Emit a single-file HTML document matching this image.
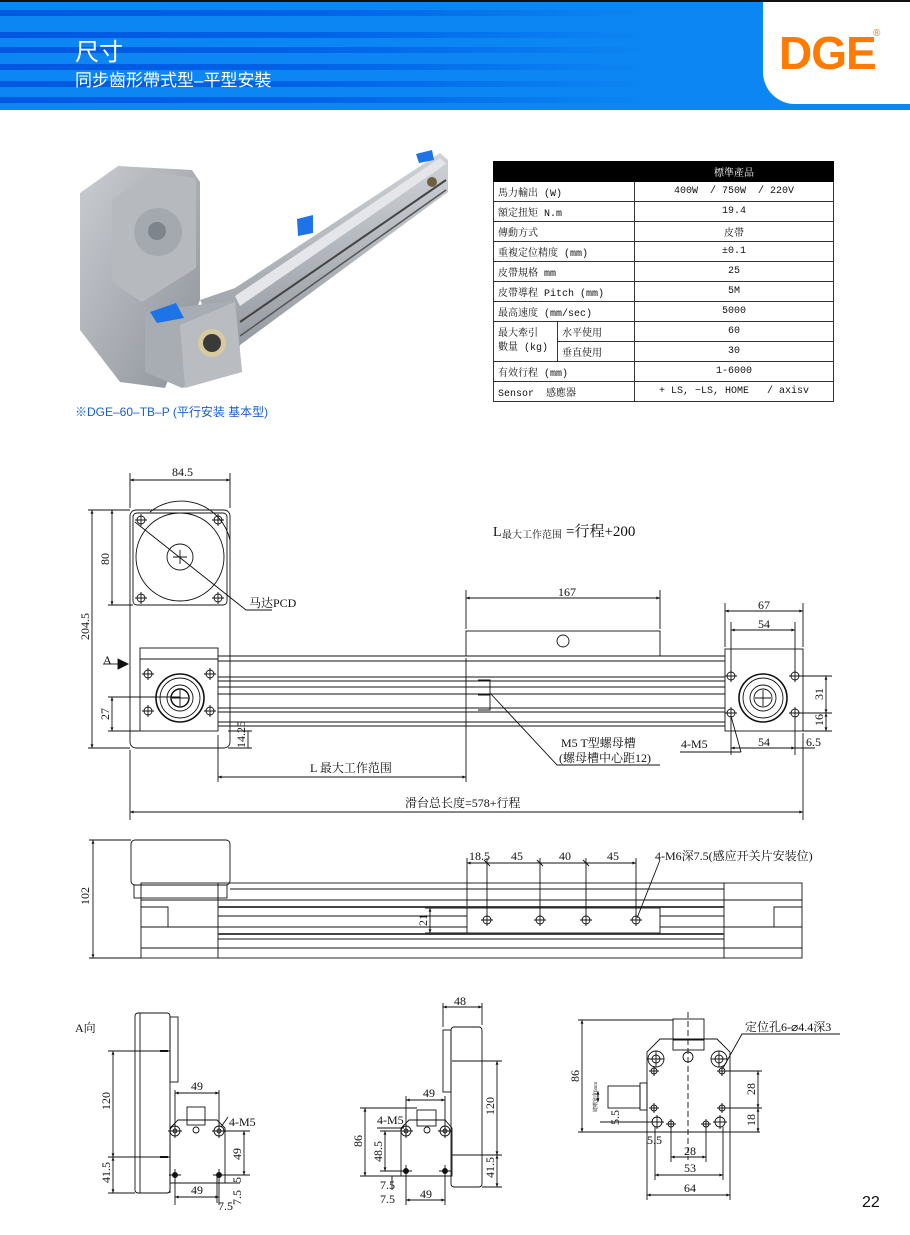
<!DOCTYPE html>
<html><head><meta charset="utf-8"><style>
html,body{margin:0;padding:0;background:#fff;}
body{width:910px;height:1235px;position:relative;overflow:hidden;font-family:"Liberation Sans","Noto Sans CJK SC",sans-serif;}
.hdr{position:absolute;left:0;top:0;width:910px;height:110px;background:#0b86f2;border-top:2px solid #111;box-sizing:border-box;}
.st{position:absolute;left:0;width:760px;height:6px;background:linear-gradient(90deg,#0058e0 0%,#0062e6 40%,rgba(11,134,242,0) 85%);}
.logo{position:absolute;left:763px;top:0;width:147px;height:102px;background:#fff;border-bottom-left-radius:32px;}
svg text{font-family:"Liberation Serif","Noto Serif CJK SC",serif;}
.tb{position:absolute;left:493px;top:161px;border-collapse:collapse;font-family:"Liberation Mono","Noto Serif CJK SC",monospace;font-size:10px;color:#111;}
.tb td{border:1px solid #333;height:19px;padding:0 4px;}
.tb .c{text-align:center;}
</style></head><body>
<div class="hdr">
<div class="st" style="top:8px"></div><div class="st" style="top:30px"></div><div class="st" style="top:45px"></div><div class="st" style="top:62px"></div><div class="st" style="top:79px"></div><div class="st" style="top:95px"></div>
<div style="position:absolute;left:75px;top:30px;color:#fff;font-size:24px;">尺寸</div>
<div style="position:absolute;left:75px;top:64px;color:#fff;font-size:17px;">同步齒形帶式型–平型安裝</div>
<div class="logo"><div style="position:absolute;left:16px;top:24px;color:#ff7a00;font-size:46px;font-weight:bold;letter-spacing:-1px;">DGE</div><div style="position:absolute;left:110px;top:26px;color:#ff7a00;font-size:10px;">®</div></div>
</div>

<table class="tb" style="width:341px;">
<tr><td colspan="2" style="background:#000;border-color:#000;"></td><td class="c" style="background:#000;color:#fff;border-color:#000;width:190px;">標準產品</td></tr>
<tr><td colspan="2">馬力輸出 (W)</td><td class="c">400W &nbsp;/ 750W &nbsp;/ 220V</td></tr>
<tr><td colspan="2">額定扭矩 N.m</td><td class="c">19.4</td></tr>
<tr><td colspan="2">傳動方式</td><td class="c">皮帶</td></tr>
<tr><td colspan="2">重複定位精度 (mm)</td><td class="c">±0.1</td></tr>
<tr><td colspan="2">皮帶規格 mm</td><td class="c">25</td></tr>
<tr><td colspan="2">皮帶導程 Pitch (mm)</td><td class="c">5M</td></tr>
<tr><td colspan="2">最高速度 (mm/sec)</td><td class="c">5000</td></tr>
<tr><td rowspan="2" style="width:55px;line-height:14px;">最大牽引<br>數量 (kg)</td><td>水平使用</td><td class="c">60</td></tr>
<tr><td>垂直使用</td><td class="c">30</td></tr>
<tr><td colspan="2">有效行程 (mm)</td><td class="c">1-6000</td></tr>
<tr><td colspan="2">Sensor &nbsp;感應器</td><td class="c">+ LS, −LS, HOME &nbsp;&nbsp;/ axisv</td></tr>
</table>

<div style="position:absolute;left:75px;top:403px;color:#1a5fd0;font-size:12px;">※DGE–60–TB–P (平行安装 基本型)</div>
<div style="position:absolute;left:862px;top:1194px;color:#111;font-size:16px;">22</div>

<svg width="910" height="1235" style="position:absolute;left:0;top:0" xmlns="http://www.w3.org/2000/svg">
<defs>
<marker id="a" viewBox="0 0 10 10" refX="10" refY="5" markerWidth="6" markerHeight="4" orient="auto-start-reverse"><path d="M0,1 L10,5 L0,9 z" fill="#111"/></marker>
<linearGradient id="g1" x1="0" y1="0" x2="1" y2="1"><stop offset="0" stop-color="#c9ccd1"/><stop offset="1" stop-color="#8d9299"/></linearGradient>
<linearGradient id="g2" x1="0" y1="0" x2="0" y2="1"><stop offset="0" stop-color="#cfd3d8"/><stop offset="1" stop-color="#8e949b"/></linearGradient>
</defs>
<!-- product image -->
<g stroke="none">
<polygon points="80,193 118,166 192,170 200,182 200,300 165,388 120,382 80,330" fill="url(#g1)"/>
<polygon points="112,200 150,172 196,178 196,268 142,302 112,282" fill="#b6babf"/>
<circle cx="158" cy="232" r="24" fill="#a4a9af"/><circle cx="157" cy="231" r="9" fill="#7e848b"/>
<polygon points="200,300 235,288 440,153 448,160 448,192 240,345 235,372" fill="url(#g2)"/>
<polygon points="235,296 440,158 446,164 240,306" fill="#e4e6e9"/>
<line x1="240" y1="322" x2="446" y2="180" stroke="#444" stroke-width="2"/>
<line x1="240" y1="336" x2="446" y2="190" stroke="#555" stroke-width="1.5"/>
<polygon points="145,312 235,300 242,372 182,388 145,372" fill="#a8adb3"/>
<polygon points="180,325 235,302 242,372 185,388" fill="#b9bdc2"/>
<circle cx="212" cy="343" r="14" fill="#d7caa0"/><circle cx="212" cy="343" r="9" fill="#3a3a3a"/>
<polygon points="150,312 176,303 184,318 157,323" fill="#1e74e6"/>
<polygon points="297,219 313,215 313,233 298,236" fill="#1e74e6"/>
<polygon points="416,154 432,150 434,160 419,163" fill="#1e74e6"/>
<circle cx="432" cy="182" r="5" fill="#6d5f40"/>
</g>

<g stroke="#111" stroke-width="0.9" fill="none">
<!-- DRAWING 1 -->
<rect x="130" y="510" width="100" height="238" rx="6"/>
<rect x="133" y="513" width="94" height="92" rx="4"/>
<circle cx="180" cy="557" r="44"/><circle cx="180" cy="557" r="13"/>
<path d="M180,550v14M173,557h14"/>
<path d="M150,512 A50,50 0 0 1 230,540"/>
<g id="h"><circle cx="141" cy="520" r="4"/><path d="M135,520h12M141,514v12"/></g>
<use href="#h" x="77"/><use href="#h" y="78"/><use href="#h" x="77" y="78"/>
<path d="M135,522 L246,610 H272"/>
<rect x="140" y="648" width="78" height="83"/><line x1="140" y1="659" x2="218" y2="659"/>
<circle cx="180" cy="698" r="24" stroke-width="1.6"/><circle cx="180" cy="698" r="20"/><circle cx="180" cy="698" r="13"/><circle cx="180" cy="698" r="9" stroke-width="1.5"/>
<path d="M180,690v16M172,698h16"/>
<use href="#h" x="7" y="154"/><use href="#h" x="69" y="154"/><use href="#h" x="7" y="191"/><use href="#h" x="69" y="191"/>
<!-- rail -->
<path d="M218,656H725M218,661H725M218,677H725M218,681H725M218,687H725M218,694H725M218,708H725M218,712H725M218,722H725M218,726H725" />
<rect x="466" y="631" width="194" height="25"/><circle cx="563" cy="641" r="6"/>
<path d="M478,680h12v30h-12M478,695h12"/>
<rect x="725" y="649" width="78" height="82"/>
<circle cx="763" cy="698" r="24" stroke-width="1.6"/><circle cx="763" cy="698" r="20"/><circle cx="763" cy="698" r="13"/><circle cx="763" cy="698" r="9"/>
<path d="M763,690v16M755,698h16"/>
<use href="#h" x="590" y="156"/><use href="#h" x="654" y="156"/><use href="#h" x="590" y="193"/><use href="#h" x="654" y="193"/>
<!-- dims 1 -->
<path d="M130,508V473M230,508V473M88,510H130M88,748H130M108,605H133M108,697H180M108,731H140M228,731H252M228,748H252M466,629V590M660,629V590M725,647V603M803,647V603M731,672V622M795,672V622M731,718V755M795,718V755M797,676H832M797,713H832M803,731H832M803,733V820M466,658V782M218,735V782M130,750V820"/>
<line x1="130" y1="480" x2="230" y2="480" marker-start="url(#a)" marker-end="url(#a)"/>
<line x1="92" y1="510" x2="92" y2="748" marker-start="url(#a)" marker-end="url(#a)"/>
<line x1="112" y1="510" x2="112" y2="605" marker-start="url(#a)" marker-end="url(#a)"/>
<line x1="112" y1="697" x2="112" y2="731" marker-start="url(#a)" marker-end="url(#a)"/>
<line x1="248" y1="731" x2="248" y2="748"/>
<line x1="466" y1="598" x2="660" y2="598" marker-start="url(#a)" marker-end="url(#a)"/>
<line x1="725" y1="611" x2="803" y2="611" marker-start="url(#a)" marker-end="url(#a)"/>
<line x1="731" y1="630" x2="795" y2="630" marker-start="url(#a)" marker-end="url(#a)"/>
<line x1="731" y1="748" x2="795" y2="748" marker-start="url(#a)" marker-end="url(#a)"/>
<line x1="795" y1="748" x2="815" y2="748"/>
<line x1="826" y1="676" x2="826" y2="713" marker-start="url(#a)" marker-end="url(#a)"/>
<line x1="826" y1="713" x2="826" y2="731" marker-start="url(#a)" marker-end="url(#a)"/>
<line x1="218" y1="777" x2="466" y2="777" marker-start="url(#a)" marker-end="url(#a)"/>
<line x1="130" y1="812" x2="803" y2="812" marker-start="url(#a)" marker-end="url(#a)"/>
<path d="M490,693 L557,765 H660M741,752 L731,716M680,752H741"/>
<path d="M103,664H118" /><polygon points="118,659 128,664 118,669" fill="#111"/>

<!-- DRAWING 2 -->
<rect x="131" y="840" width="99" height="45" rx="4"/><rect x="134" y="885" width="93" height="13"/>
<rect x="141" y="883" width="661" height="75"/>
<path d="M218,883V958M724,883V958M230,889H724M141,900H802M218,907H724M141,927H802M218,934H724M218,939H724M141,948H802M141,907H168V927M802,907H774V927M218,916H724"/>
<path d="M218,907H724M218,934H724" stroke-width="2" stroke="#444"/>
<rect x="467" y="908" width="193" height="25" fill="#fff"/>
<g id="h2"><circle cx="487" cy="920" r="4"/><path d="M481,920h12M487,914v12"/></g>
<use href="#h2" x="53"/><use href="#h2" x="99"/><use href="#h2" x="149"/>
<path d="M487,916V858M540,916V858M586,916V858M636,916V858M467,906V858M89,840H131M89,958H141"/>
<line x1="467" y1="863" x2="636" y2="863" marker-start="url(#a)" marker-end="url(#a)"/>
<path d="M484,860l6,6M537,860l6,6M583,860l6,6"/>
<line x1="93" y1="840" x2="93" y2="958" marker-start="url(#a)" marker-end="url(#a)"/>
<line x1="430" y1="908" x2="430" y2="933" marker-start="url(#a)" marker-end="url(#a)"/>
<path d="M425,908H467M425,933H467M637,918L660,860"/>

<!-- DRAWING 3 -->
<rect x="135" y="1013" width="35" height="180" rx="3"/><line x1="140" y1="1013" x2="140" y2="1193"/>
<rect x="170" y="1017" width="8" height="65"/>
<path d="M170,1193V1128L178,1120H217L225,1128V1183H170"/>
<rect x="187" y="1107" width="18" height="18"/><circle cx="196" cy="1130" r="3"/>
<g id="h3"><circle cx="175" cy="1131" r="5"/><circle cx="175" cy="1131" r="2"/><path d="M168,1131h14M175,1124v14"/></g>
<use href="#h3" x="44"/>
<g id="h4"><circle cx="175" cy="1175" r="2.5" fill="#111"/><path d="M169,1175h12M175,1169v12"/></g>
<use href="#h4" x="44"/>
<path d="M108,1051H170M108,1157H170M108,1193H135M175,1127V1090M219,1127V1090M175,1180V1205M219,1180V1205M222,1131H250M222,1175H250M225,1183H240M217,1173V1203"/>
<path d="M160,1051h8M160,1157h8" stroke-width="2"/>
<line x1="113" y1="1051" x2="113" y2="1157" marker-start="url(#a)" marker-end="url(#a)"/>
<line x1="113" y1="1157" x2="113" y2="1193" marker-start="url(#a)" marker-end="url(#a)"/>
<line x1="175" y1="1093" x2="219" y2="1093" marker-start="url(#a)" marker-end="url(#a)"/>
<line x1="175" y1="1197" x2="219" y2="1197" marker-start="url(#a)" marker-end="url(#a)"/>
<line x1="244" y1="1131" x2="244" y2="1175" marker-start="url(#a)" marker-end="url(#a)"/>
<path d="M221,1127l7,-10"/>

<!-- DRAWING 4 -->
<rect x="451" y="1027" width="31" height="160" rx="3"/>
<rect x="443" y="1030" width="8" height="62"/>
<path d="M401,1176V1128L409,1120H445L452,1128V1176H401"/>
<rect x="417" y="1110" width="19" height="16"/><circle cx="427" cy="1130" r="3"/>
<use href="#h3" x="231"/><use href="#h3" x="270"/>
<use href="#h4" x="231" y="-4"/><use href="#h4" x="270" y="-4"/>
<path d="M443,1027V1003M482,1025V1003M452,1061H502M452,1155H502M482,1187H502M406,1126V1096M445,1126V1096M360,1108H417M360,1176H401M380,1131H401M380,1171H406M406,1176V1205M445,1176V1205M392,1176V1190"/>
<line x1="443" y1="1007" x2="482" y2="1007" marker-start="url(#a)" marker-end="url(#a)"/>
<line x1="497" y1="1061" x2="497" y2="1155" marker-start="url(#a)" marker-end="url(#a)"/>
<line x1="497" y1="1155" x2="497" y2="1187" marker-start="url(#a)" marker-end="url(#a)"/>
<line x1="406" y1="1100" x2="445" y2="1100" marker-start="url(#a)" marker-end="url(#a)"/>
<line x1="406" y1="1200" x2="445" y2="1200" marker-start="url(#a)" marker-end="url(#a)"/>
<line x1="365" y1="1108" x2="365" y2="1176" marker-start="url(#a)" marker-end="url(#a)"/>
<line x1="385" y1="1131" x2="385" y2="1171" marker-start="url(#a)" marker-end="url(#a)"/>
<path d="M377,1128H404"/>

<!-- DRAWING 5 -->
<path d="M647,1132V1052L660,1039H717L730,1052V1132H647"/>
<rect x="673" y="1019" width="31" height="31"/><line x1="673" y1="1040" x2="704" y2="1040"/>
<line x1="688" y1="1012" x2="688" y2="1160" stroke-dasharray="6,3"/>
<circle cx="656" cy="1059" r="8"/><circle cx="656" cy="1059" r="4"/><path d="M648,1059h16M656,1051v16"/>
<circle cx="719" cy="1059" r="8"/><circle cx="719" cy="1059" r="4"/><path d="M711,1059h16M719,1051v16"/>
<circle cx="688" cy="1057" r="5"/>
<g id="h5"><circle cx="654" cy="1071" r="3"/><path d="M649,1071h10M654,1066v10"/></g>
<use href="#h5" x="68"/><use href="#h5" y="37"/><use href="#h5" x="68" y="37"/>
<use href="#h5" x="17" y="53"/><use href="#h5" x="52" y="53"/>
<g id="h6"><circle cx="657" cy="1122" r="5"/><path d="M650,1122h14M657,1115v14"/></g><use href="#h6" x="63"/>
<rect x="608" y="1086" width="32" height="22"/><rect x="640" y="1083" width="7" height="27"/>
<path d="M578,1020H673M578,1132H760M725,1071H762M725,1108H762M671,1127V1162M706,1127V1162M655,1127V1180M723,1127V1180M647,1132V1200M730,1132V1200M600,1122H650"/>
<line x1="582" y1="1020" x2="582" y2="1132" marker-start="url(#a)" marker-end="url(#a)"/>
<line x1="758" y1="1071" x2="758" y2="1108" marker-start="url(#a)" marker-end="url(#a)"/>
<line x1="758" y1="1108" x2="758" y2="1132" marker-start="url(#a)" marker-end="url(#a)"/>
<line x1="671" y1="1157" x2="706" y2="1157" marker-start="url(#a)" marker-end="url(#a)"/>
<line x1="655" y1="1175" x2="723" y2="1175" marker-start="url(#a)" marker-end="url(#a)"/>
<line x1="647" y1="1195" x2="730" y2="1195" marker-start="url(#a)" marker-end="url(#a)"/>
<line x1="598" y1="1091" x2="598" y2="1102" marker-start="url(#a)" marker-end="url(#a)"/>
<path d="M723,1068L742,1034H840"/>
</g>

<g fill="#111" font-size="12">
<text x="172" y="476">84.5</text>
<text x="109" y="565" transform="rotate(-90 109 565)">80</text>
<text x="89" y="640" transform="rotate(-90 89 640)">204.5</text>
<text x="109" y="720" transform="rotate(-90 109 720)">27</text>
<text x="245" y="748" transform="rotate(-90 245 748)">14.25</text>
<text x="103" y="664">A</text>
<text x="249" y="607">马达PCD</text>
<text x="493" y="536" font-size="14">L</text><text x="502" y="538" font-size="10">最大工作范围</text><text x="566" y="536" font-size="15">=行程+200</text>
<text x="558" y="596">167</text>
<text x="758" y="609">67</text><text x="758" y="628">54</text><text x="758" y="746">54</text>
<text x="806" y="746">6.5</text>
<text x="823" y="700" transform="rotate(-90 823 700)">31</text>
<text x="823" y="726" transform="rotate(-90 823 726)">16</text>
<text x="561" y="747">M5 T型螺母槽</text><text x="559" y="762">(螺母槽中心距12)</text>
<text x="681" y="748">4-M5</text>
<text x="310" y="772">L 最大工作范围</text>
<text x="405" y="807" font-family="Liberation Sans,Noto Sans CJK SC,sans-serif">滑台总长度=578+行程</text>
<text x="89" y="905" transform="rotate(-90 89 905)">102</text>
<text x="469" y="860">18.5</text><text x="511" y="860">45</text><text x="559" y="860">40</text><text x="607" y="860">45</text>
<text x="655" y="860">4-M6深7.5(感应开关片安装位)</text>
<text x="427" y="926" transform="rotate(-90 427 926)">21</text>
<text x="75" y="1032">A向</text>
<text x="110" y="1110" transform="rotate(-90 110 1110)">120</text>
<text x="110" y="1183" transform="rotate(-90 110 1183)">41.5</text>
<text x="191" y="1090">49</text><text x="229" y="1126">4-M5</text>
<text x="241" y="1160" transform="rotate(-90 241 1160)">49</text>
<text x="241" y="1183" transform="rotate(-90 241 1183)">5</text>
<text x="241" y="1205" transform="rotate(-90 241 1205)">7.5</text>
<text x="191" y="1194">49</text><text x="218" y="1210">7.5</text>
<text x="454" y="1005">48</text>
<text x="494" y="1115" transform="rotate(-90 494 1115)">120</text>
<text x="494" y="1178" transform="rotate(-90 494 1178)">41.5</text>
<text x="423" y="1097">49</text><text x="377" y="1124">4-M5</text>
<text x="362" y="1147" transform="rotate(-90 362 1147)">86</text>
<text x="382" y="1162" transform="rotate(-90 382 1162)">48.5</text>
<text x="380" y="1189">7.5</text><text x="380" y="1203">7.5</text><text x="420" y="1198">49</text>
<text x="579" y="1082" transform="rotate(-90 579 1082)">86</text>
<text x="745" y="1031">定位孔6-⌀4.4深3</text>
<text x="755" y="1095" transform="rotate(-90 755 1095)">28</text>
<text x="755" y="1126" transform="rotate(-90 755 1126)">18</text>
<text x="619" y="1125" transform="rotate(-90 619 1125)">5.5</text>
<text x="647" y="1144">5.5</text>
<text x="684" y="1155">28</text><text x="684" y="1172">53</text><text x="684" y="1192">64</text>
<text x="597" y="1112" font-size="5" transform="rotate(-90 597 1112)">键槽宽度6mm</text>
</g>
</svg>
</body></html>
